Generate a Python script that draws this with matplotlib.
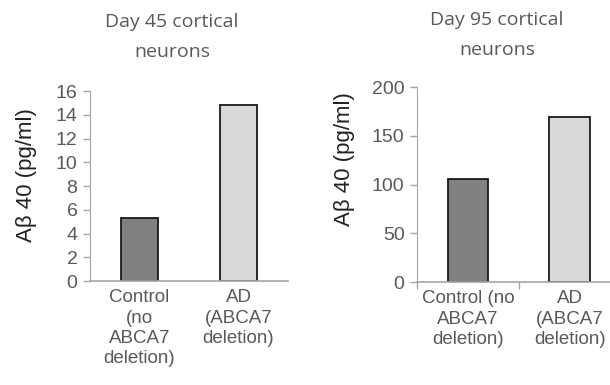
import matplotlib.pyplot as plt

# Abeta 40 levels, control vs AD (ABCA7 deletion)
labels_45 = ["Control\n(no\nABCA7\ndeletion)", "AD\n(ABCA7\ndeletion)"]
labels_95 = ["Control (no\nABCA7\ndeletion)", "AD\n(ABCA7\ndeletion)"]
day45 = [5.3, 14.8]
day95 = [106, 169]
bar_colors = ["#808080", "#d9d9d9"]

txt = "#595959"
axcol = "#a6a6a6"
plt.rcParams["font.family"] = ["Liberation Sans", "DejaVu Sans"]

fig = plt.figure(figsize=(6.1, 3.85), dpi=100)

def panel(rect, vals, labels, ylim, yticks, width, xticks_on, ylab_xy):
    ax = fig.add_axes(rect)
    ax.bar([0, 1], vals, width=width, color=bar_colors, edgecolor="#1a1a1a", linewidth=1.3)
    ax.set_xlim(-0.5, 1.5)
    ax.set_ylim(*ylim)
    ax.set_yticks(yticks)
    ax.tick_params(axis="y", colors=axcol, labelcolor=txt, labelsize=14, length=5, width=1, pad=4)
    ax.set_xticks([0, 1])
    ax.set_xticklabels(labels, color=txt, fontsize=13.5, linespacing=1.25)
    ax.tick_params(axis="x", length=0, pad=6)
    if xticks_on:
        ax.set_xticks([-0.5, 0.5], minor=True)
        ax.tick_params(axis="x", which="minor", length=5, color=axcol, width=1)
    for s in ["top", "right"]:
        ax.spines[s].set_visible(False)
    for s in ["left", "bottom"]:
        ax.spines[s].set_color(axcol)
    ax.spines["bottom"].set_linewidth(1.2)
    ax.set_ylabel("Aβ 40 (pg/ml)", fontsize=16, color="#222222")
    ax.yaxis.set_label_coords(*ylab_xy)
    return ax

ax1 = panel([0.1475, 0.2701, 0.3246, 0.4935], day45, labels_45, (0, 16),
            range(0, 17, 2), 0.38, False, (-53 / 198, 0.56))
ax2 = panel([0.6836, 0.2675, 0.334, 0.5065], day95, labels_95, (0, 200),
            range(0, 201, 50), 0.40, True, (-62 / 204, 0.63))

fig.text(172 / 610, 1 - 37 / 385, "Day 45 cortical\nneurons", ha="center", va="center",
         fontsize=14, color=txt, family="Open Sans", linespacing=1.85)
fig.text(497 / 610, 1 - 35 / 385, "Day 95 cortical\nneurons", ha="center", va="center",
         fontsize=14, color=txt, family="Open Sans", linespacing=1.85)

fig.savefig("out.png", dpi=100)
